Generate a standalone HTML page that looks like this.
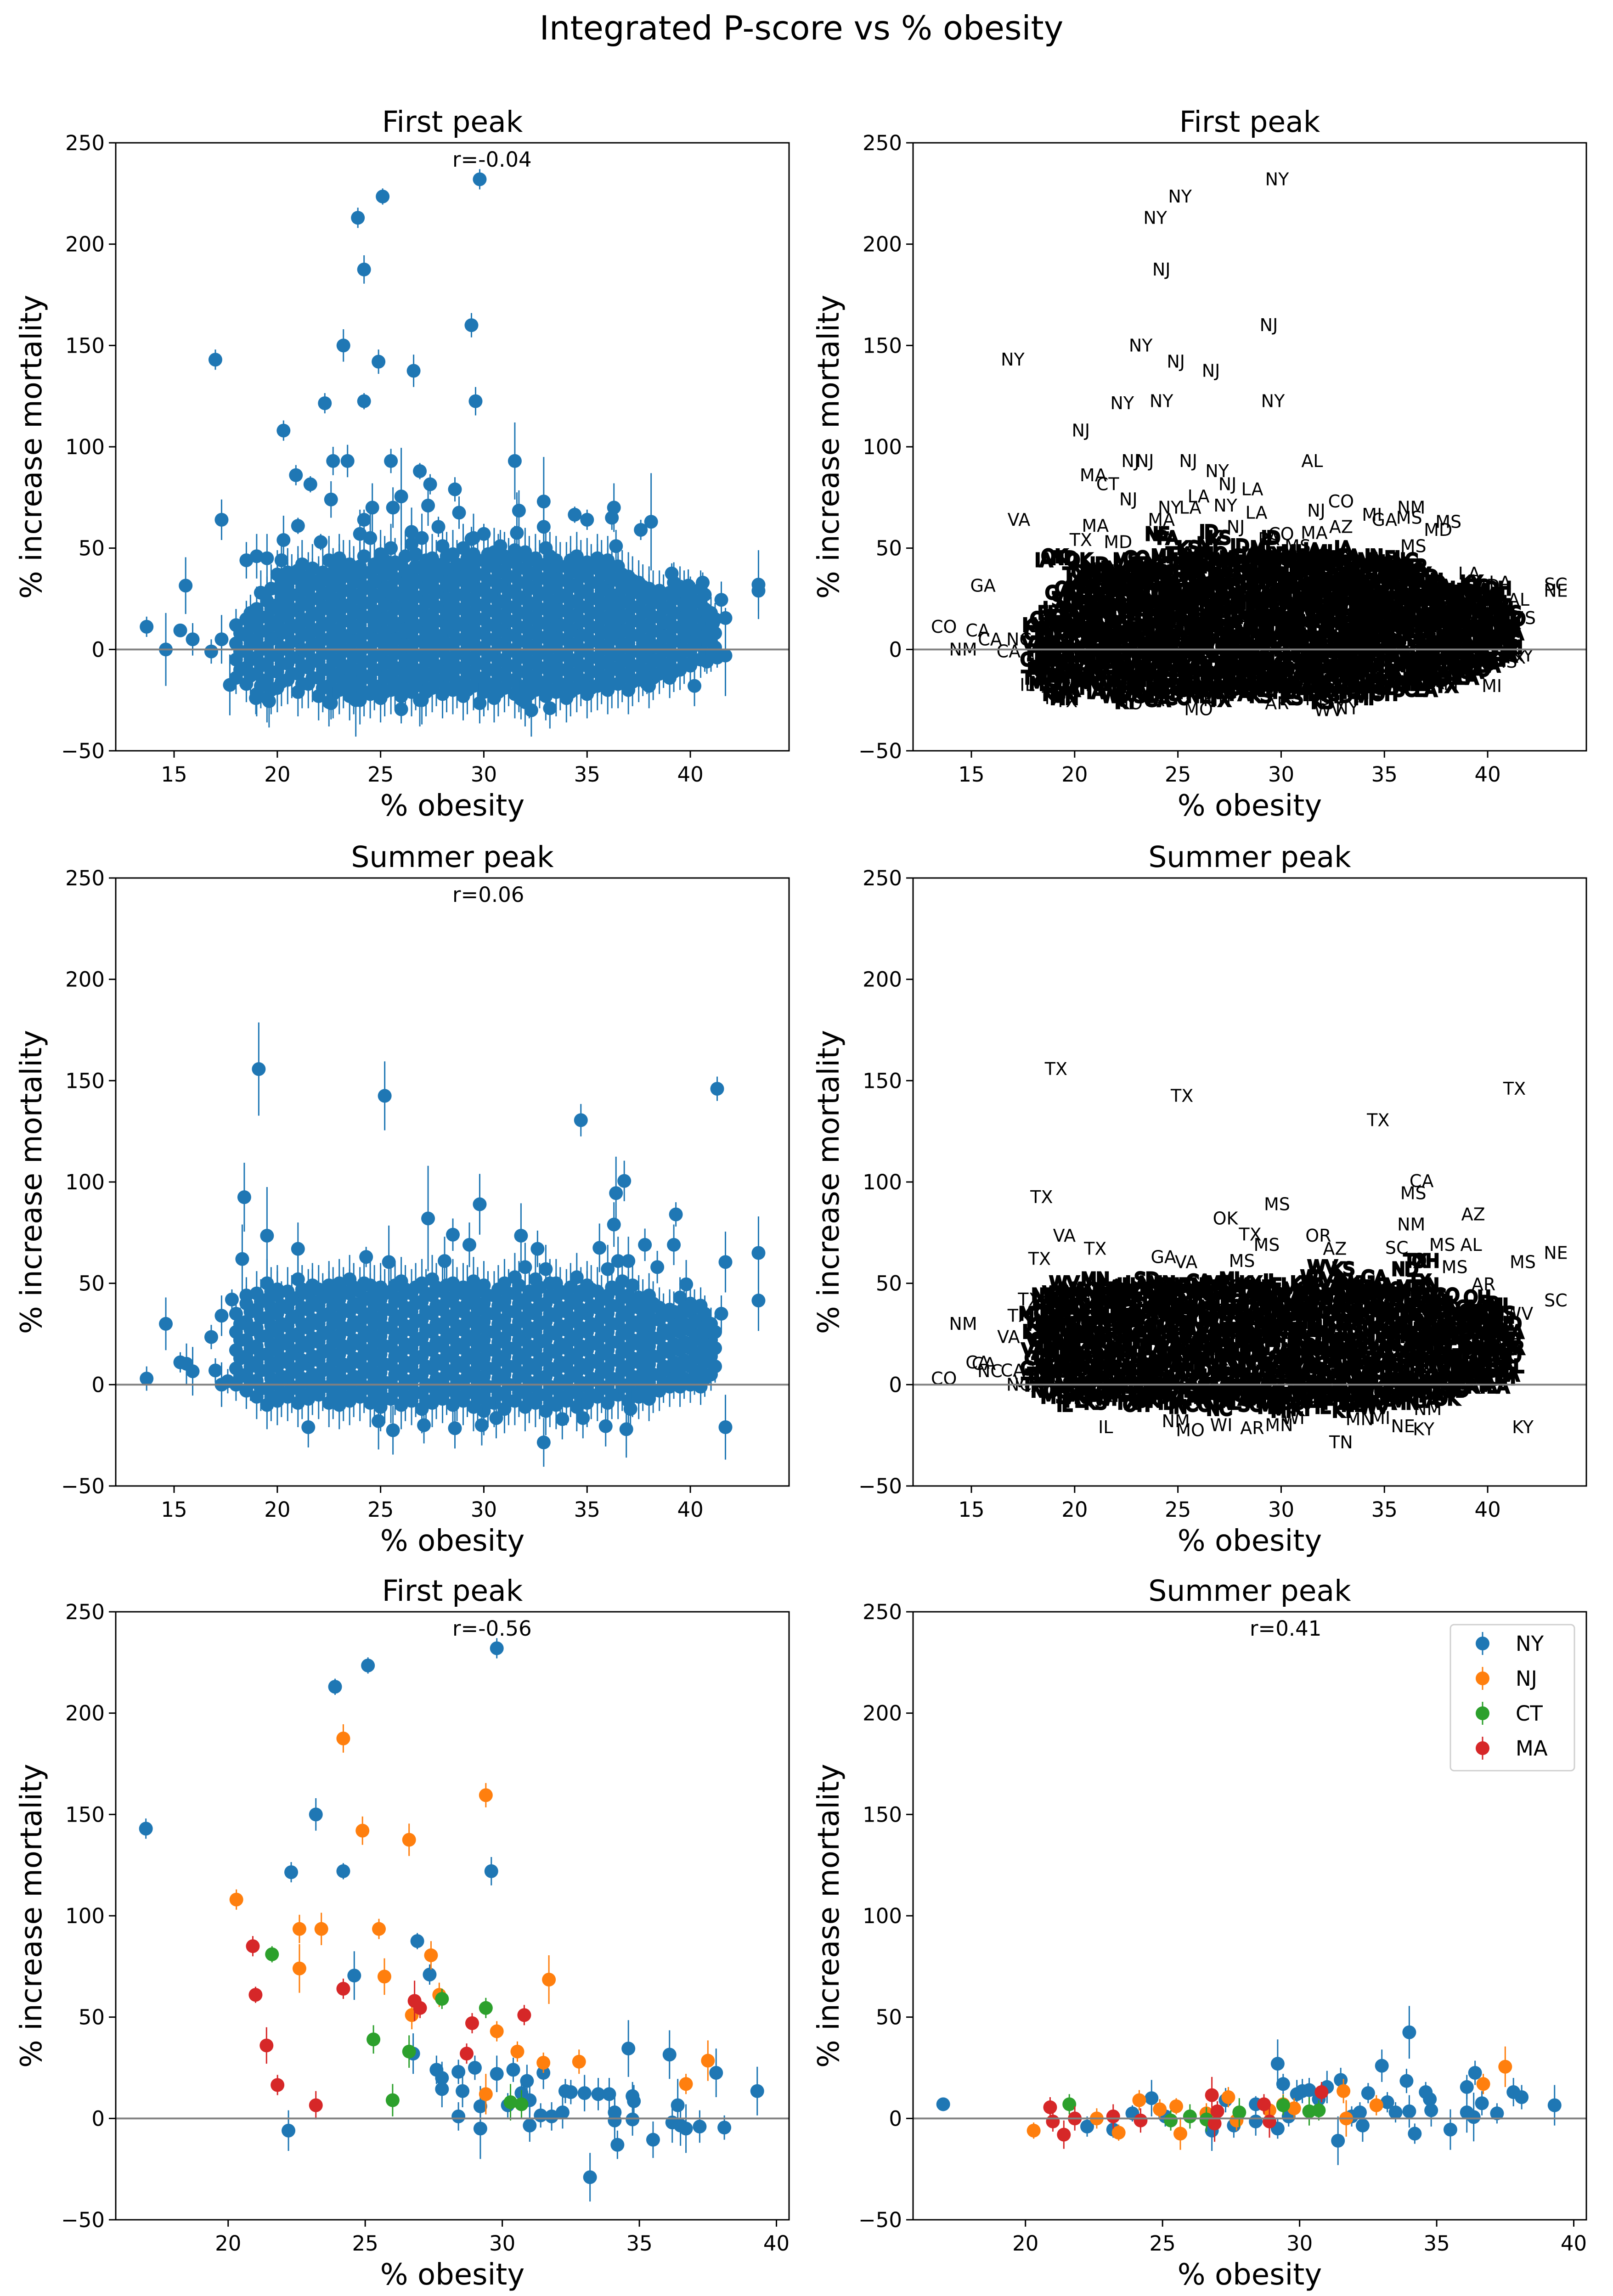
<!DOCTYPE html>
<html><head><meta charset="utf-8"><title>Integrated P-score vs % obesity</title>
<style>html,body{margin:0;padding:0;background:#fff;width:3512px;height:5034px;overflow:hidden}svg{display:block}text{font-family:"DejaVu Sans","Liberation Sans",sans-serif}</style>
</head><body>
<svg id="fig" xmlns="http://www.w3.org/2000/svg" width="3512" height="5034" viewBox="0 0 3512 5034">
<rect x="0" y="0" width="3512" height="5034" fill="#fff"/>
<text x="1745" y="86" font-size="72" text-anchor="middle">Integrated P-score vs % obesity</text>
</svg>
<script>
// ---------- DATA ----------
const cloudX = [18,18.5,19,19.5,20,20.5,21,21.5,22,22.5,23,23.5,24,24.5,25,25.5,26,26.5,27,27.5,28,28.5,29,29.5,30,30.5,31,31.5,32,32.5,33,33.5,34,34.5,35,35.5,36,36.5,37,37.5,38,38.5,39,39.5,40,40.5,41];
const cloudX2 = [18.2,18.7,19.2,19.7,20.2,20.7,21.2,21.7,22.2,22.7,23.2,23.7,24.2,24.7,25.2,25.7,26.2,26.7,27.2,27.7,28.2,28.7,29.2,29.7,30.2,30.7,31.2,31.7,32.2,32.7,33.2,33.7,34.2,34.7,35.2,35.7,36.2,36.7,37.2,37.7,38.2,38.7,39.2,39.7,40.2,40.7,41.2];
const firstCloudY = [
[-14,-5,3,12],[-17,-9,-1,7,15,44],[-22,-12,-4,5,13,20,46],[-24,-15,-7,1,9,16,24,45],[-19,-11,-3,6,14,22,30,37],
[-15,-7,0,8,16,23,31,38],[-21,-12,-4,4,11,19,27,35,39],[-17,-9,-1,7,14,22,29,36],[-23,-14,-6,2,9,17,25,32,34],
[-26,-18,-10,-2,5,12,20,27,34,44],[-20,-12,-5,3,10,18,25,33,40,45],[-23,-15,-8,0,7,14,22,29,36,42],
[-25,-17,-10,-2,5,12,19,27,34,41,57],[-22,-14,-6,1,8,16,23,31,38,55],[-24,-18,-10,-3,4,11,18,26,33,40,47],
[-20,-13,-6,2,9,16,24,31,39,50],[-23,-16,-9,-1,6,13,21,28,35,42],[-21,-14,-7,1,8,15,22,30,37,52,58],
[-25,-17,-10,-3,4,11,19,26,33,40,55],[-19,-12,-5,3,10,17,24,32,39,45],[-22,-15,-8,0,7,14,21,29,36,42,51],
[-20,-13,-6,2,9,16,23,31,38,47],[-23,-16,-9,-2,5,12,20,27,34,41,50],[-18,-11,-4,4,11,18,25,33,40,47,55],
[-21,-14,-7,1,8,15,22,30,37,44],[-24,-17,-10,-2,5,12,19,27,34,41,48],[-19,-12,-5,3,10,17,24,32,39,46],
[-22,-15,-8,0,7,14,21,29,36,43,49],[-26,-18,-11,-3,4,11,18,26,33,40,48],[-20,-13,-6,2,9,16,23,31,38,45],
[-23,-16,-9,-1,6,13,20,28,35,42,50],[-21,-14,-7,1,8,15,22,30,37,44],[-24,-17,-10,-2,5,12,19,27,34,41],
[-19,-12,-5,3,10,17,24,32,39,46],[-22,-15,-8,0,7,14,21,29,36,43],[-18,-11,-4,4,11,18,25,33,40,45],
[-20,-13,-6,2,9,16,23,31,38,44],[-17,-10,-3,5,12,19,26,34,41],[-20,-12,-5,3,10,17,24,31,36],
[-15,-8,-1,7,14,21,28,33],[-18,-10,-3,5,12,19,26,30],[-12,-5,2,9,16,23,29],[-14,-7,0,7,14,21,28],
[-10,-3,4,11,18,25,31],[-8,-1,6,13,20,27],[-5,2,9,16,23,30],[-3,4,11,18]];
const firstCloudY2 = [
[-10,-1,8],[-13,-5,3,11,18],[-18,-8,0,9,16,28],[-20,-11,-3,5,12,20,30],[-16,-7,1,10,18,26,34,44],
[-12,-4,4,12,20,27,35],[-17,-8,0,8,15,23,31,42],[-14,-5,3,10,18,25,33,40],[-19,-10,-2,5,13,21,28,38],
[-22,-14,-6,1,8,16,24,31,38],[-17,-9,-1,6,14,21,29,36,42],[-20,-12,-4,4,11,18,25,33,39],
[-21,-13,-6,1,8,16,23,30,38,46],[-18,-10,-3,5,12,19,27,34,42],[-21,-14,-7,0,7,15,22,29,37,44],
[-17,-10,-2,5,12,20,27,35,43],[-20,-12,-5,2,10,17,25,32,39,46],[-18,-11,-3,4,12,19,26,34,41,47],
[-21,-13,-6,1,8,15,23,30,37,44],[-16,-9,-1,6,14,21,28,36,42],[-19,-11,-4,3,11,18,25,33,40,46],
[-17,-9,-2,5,13,20,27,35,42],[-20,-12,-5,2,9,16,24,31,38,45],[-15,-7,0,8,15,22,29,37,44],
[-18,-10,-3,5,12,19,26,34,41,47],[-21,-13,-6,2,9,16,23,31,38,45],[-16,-8,-1,7,14,21,28,36,43],
[-19,-11,-4,4,11,18,25,33,40,46],[-22,-14,-7,0,8,15,22,30,37,44],[-17,-9,-2,6,13,20,27,35,42],
[-20,-12,-5,3,10,17,24,32,39,46],[-18,-10,-3,5,12,19,26,34,41],[-21,-13,-6,2,9,16,23,31,38,44],
[-16,-8,-1,7,14,21,28,36,42],[-19,-11,-4,4,11,18,25,33,40],[-15,-7,0,8,15,22,29,37,42],
[-17,-9,-2,6,13,20,27,35,41],[-14,-6,1,9,16,23,30,37],[-16,-8,-1,7,14,21,28,34],
[-12,-4,3,11,18,25,31],[-14,-6,1,9,16,23,28],[-9,-1,6,13,20,27],[-11,-3,4,11,18,25,33],
[-7,0,8,15,22,29],[-5,3,10,17,24],[-2,6,13,20,27],[1,8,15]];
const summerCloudY = [
[0,8,17,26,35],[-3,5,14,22,31,40,44],[-6,2,11,19,28,37,45],[-10,-2,7,15,24,33,42,50],[-8,0,9,17,26,35,44,47],
[-6,2,11,20,29,38,46],[-9,-1,8,17,25,34,43,52],[-7,1,10,19,28,37,45],[-5,3,12,21,30,39,47],
[-9,-1,8,17,26,35,44,49],[-10,-2,6,15,24,33,42,50],[-8,0,9,18,27,36,45,52],[-6,2,11,20,29,38,46],
[-9,-1,8,17,26,35,43,49],[-11,-3,6,15,24,33,42,48],[-7,1,10,19,28,37,46],[-10,-2,7,16,25,34,43,51],
[-8,0,9,18,27,36,45],[-12,-4,5,14,23,32,41,50],[-9,-1,8,17,26,35,44,52],[-7,1,10,19,28,37,46],
[-10,-2,7,16,25,34,43,50],[-8,0,9,18,27,36,45,48],[-11,-3,6,15,24,33,42,51],[-13,-5,4,13,22,31,40,49],
[-9,-1,8,17,26,35,44],[-12,-4,5,14,23,32,41,50],[-8,0,9,18,27,36,45,53],[-11,-3,6,15,24,33,42,58],
[-9,-1,8,17,26,35,44,52],[-13,-5,4,13,22,31,40,57],[-10,-2,7,16,25,34,43,50],[-8,0,9,18,27,36,45],
[-11,-3,6,15,24,33,42,53],[-9,-1,8,17,26,35,44,49],[-6,2,11,20,29,38,46],[-9,-1,8,17,26,35,44,57],
[-5,3,12,21,30,39,47,61],[-8,0,9,18,27,36,44,61],[-6,2,11,20,29,38,43],[-7,1,10,19,28,37,44],
[-3,5,14,23,32,38],[-1,7,16,25,34,37],[-1,8,17,26,33,43],[0,9,18,27,36,40],[-1,7,16,25,32,39],[5,14,22,30]];
const summerCloudY2 = [
[4,13,22,30],[1,9,18,27,36],[-2,7,15,24,33,41],[-6,3,11,20,29,38,46],[-4,4,13,22,30,39],
[-2,6,15,24,33,42],[-5,3,12,21,30,38,47],[-3,5,14,23,32,41,48],[-1,7,16,25,34,43],
[-5,3,12,21,30,39,46],[-6,2,10,19,28,37,46],[-4,4,13,22,31,40,48],[-2,6,15,24,33,42,50],
[-5,3,12,21,30,39,47],[-7,1,10,19,28,37,45],[-3,5,14,23,32,41,49],[-6,2,11,20,29,38,47],
[-4,4,13,22,31,40,48],[-8,0,9,18,27,36,45],[-5,3,12,21,30,39,48],[-3,5,14,23,32,41,49],
[-6,2,11,20,29,38,46],[-4,4,13,22,31,40,47],[-7,1,10,19,28,37,46],[-9,-1,8,17,26,35,44],
[-5,3,12,21,30,39,47],[-8,0,9,18,27,36,45],[-4,4,13,22,31,40,49],[-7,1,10,19,28,37,46],
[-5,3,12,21,30,39,48],[-9,-1,8,17,26,35,44,50],[-6,2,11,20,29,38,46],[-4,4,13,22,31,40,48],
[-7,1,10,19,28,37,46],[-5,3,12,21,30,39,47],[-2,6,15,24,33,42],[-5,3,12,21,30,39,48],
[-1,7,16,25,34,43,51],[-4,4,13,22,31,40,49],[-2,6,15,24,33,41],[-3,5,14,23,32,40],
[1,9,18,27,35],[3,11,20,29,36],[3,12,21,30,38],[4,13,22,31,38],[3,11,20,28,35],[9,18,26]];
const cloudErr = [8,9,11,12,12,12,12,12,12,12,12,12,12,12,12,12,12,12,12,12,12,12,12,12,12,12,12,12,12,12,12,12,12,12,12,12,12,12,12,11,11,10,10,10,9,9,8];
const cloudStates = ["TX","GA","VA","KY","MO","NC","TN","IN","OH","IA","KS","NE","MS","AL","AR","LA","OK","MN","WI","IL","MI","PA","CO","SD","ND","MT","WV","FL","SC","CA","NY","ID"];

const firstOutX = [13.67,14.6,15.3,15.56,15.9,16.8,17.0,17.3,17.3,20.3,20.9,21.6,20.3,21.0,22.3,22.6,22.7,22.1,23.2,23.4,23.9,24.2,24.2,24.2,24.9,25.1,25.5,24.6,25.6,26.0,26.6,26.9,27.4,27.3,27.8,28.6,28.8,29.4,29.6,29.8,29.4,30.0,31.5,31.7,30.8,31.6,32.9,32.9,34.4,35.0,36.3,36.2,36.4,37.6,38.1,39.1,39.9,40.6,41.5,41.7,43.3,43.3,41.1,41.7,41.3,40.2,40.8,26.0,32.3,33.2,29.8,22.6,19.6,18.96,26.9,23.8,31.8,37.9,35.0,17.7,38.7];
const firstOutY = [11.2,0,9.4,31.5,5,-1,143,64,5,108,86,81.5,54,61,121.5,74,93,53,150,93,213,187.5,122.5,64,142,223.5,93,70,70,75.5,137.5,88,81.5,71,60.5,79,67.5,160,122.5,232,54.5,57,93,68.5,51,57.5,60.5,73,66.5,64,70,65,51,59,63,37.5,31.5,33,24.5,15.5,32,29,13,-3,-4,-18,-6,-29.5,-30,-29,-26.5,-26.5,-25.5,-24,-25,-25,-24.5,-17,-19,-17.5,-10];
const firstOutErr = [5,18,3,14,8,6,5,10,12,5,5,4,12,4,5,9,7,4,8,8,5,7,4,5,6,4,6,12,10,24,8,4,5,10,5,6,8,6,7,5,6,5,19,10,8,20,10,22,4,5,12,6,8,5,24,5,8,5,9,5,17,10,4,20,5,10,6,7,13,10,10,8,13,8,13,18,10,5,6,15,6];
const firstOutState = ["CO","NM","CA","GA","CA","CA","NY","VA","NC","NJ","MA","CT","TX","MA","NY","NJ","NJ","MD","NY","NJ","NY","NJ","NY","MA","NJ","NY","NJ","NY","LA","LA","NJ","NY","NJ","NY","NJ","LA","LA","NJ","NY","NY","PA","CO","AL","NJ","MS","MA","AZ","CO","MI","GA","NM","MS","MS","MD","MS","LA","MD","LA","AL","MS","SC","NE","TX","KY","TX","MI","MS","MO","WV","NY","AR","MO","TX","TX","MN","VA","ND","NM","OH","IL","KY"];

const summerOutX = [13.67,14.6,15.3,15.6,15.9,16.8,17.0,17.3,17.3,17.6,17.8,18.3,18.4,19.1,19.5,21.0,21.5,21.7,24.3,25.2,25.4,24.9,25.6,27.3,28.5,28.1,29.3,29.8,28.6,29.9,30.6,27.1,31.8,32.6,32.9,33.8,34.7,34.8,35.6,35.9,36.3,36.4,36.8,36.9,37.8,39.2,39.3,39.8,41.3,41.7,41.7,43.3,43.3,41.5,41.0,40.7,38.4,37.1];
const summerOutY = [3,30,11,10.3,6.6,23.5,7,34,0,1.7,42,62,92.5,155.7,73.5,67,-21,49,63,142.5,60.5,-18,-22.5,82,74,61,69,89,-21.5,-20,-16.5,-20,73.5,67,-28.5,-17,130.5,-16.5,67.5,-20.5,79,94.5,100.5,-22,69,69,84,49.5,146,60.5,-21,65,41.5,35,19.5,26,58,-12];
const summerOutErr = [6,13,5,10,12,6,6,10,11,6,5,17,17,23,24,13,10,8,5,17,18,14,12,26,8,12,11,15,10,10,10,9,16,9,12,10,8,10,12,10,11,18,10,14,8,10,6,12,6,15,16,18,15,9,10,8,8,10];
const summerOutState = ["CO","NM","CA","CA","NC","VA","CA","TX","NC","VA","TX","TX","TX","TX","VA","TX","IL","GA","GA","TX","VA","NM","MO","OK","TX","MS","MS","MS","AR","MN","WI","WI","OR","AZ","TN","MN","TX","MI","SC","NE","NM","MS","CA","KY","MS","AL","AZ","AR","TX","MS","KY","NE","SC","WV","MS","KY","MS","NM"];

const firstNEX = [17.0,22.3,22.2,23.2,23.9,24.2,24.6,25.1,26.9,27.35,26.75,27.6,27.8,27.8,28.4,28.55,28.4,29.0,29.2,29.2,29.8,29.6,29.8,30.2,30.4,30.7,30.9,31.0,31.0,31.5,31.4,31.8,32.2,32.3,32.5,33.0,33.2,33.5,33.9,34.1,34.1,34.2,34.6,34.75,34.8,34.75,35.5,36.1,36.2,36.4,36.5,36.7,37.2,37.8,38.1,39.3,
 20.3,22.6,22.6,23.4,24.2,24.9,25.5,25.7,26.6,26.7,27.4,27.7,29.4,29.4,29.8,30.55,31.5,31.7,32.8,36.7,37.5,
 21.6,25.3,26.0,26.6,27.8,29.4,30.3,30.7,
 20.9,21.0,21.4,21.8,23.2,24.2,26.8,27.0,28.7,28.9,30.8];
const firstNEY = [143,121.5,-6,150,213,122,70.5,223.5,87.5,71,32,24,20,14.5,23,13.5,1,25,6,-5,232,122,22,6.5,24,12.5,18.5,9,-3.5,22.5,1.5,1,3,13.5,13,12.5,-29,12,12,3,-1,-13,34.5,11,8.5,-0.5,-10.5,31.5,-2,6.5,-3.5,-5,-4,22.5,-4.5,13.5,
 108,93.5,74,93.5,187.5,142,93.5,70,137.5,51,80.5,61,159.5,12,43,33,27.5,68.5,28,17,28.5,
 81,39,9,33,59,54.5,8,7,
 85,61,36,16.5,6.5,64,58,54.5,32,47,51];
const firstNEErr = [5,5,10,8,4,4,12,4,4,5,10,7,8,9,6,8,7,6,10,15,5,7,9,6,6,6,8,10,8,8,6,7,8,6,6,9,12,8,8,9,10,7,14,7,8,8,9,12,10,13,10,12,8,12,6,12,
 5,7,12,8,7,7,5,9,8,7,7,6,6,10,5,5,5,12,6,5,10,
 4,7,8,8,5,5,9,7,
 5,4,9,5,7,5,10,5,5,5,5];
const firstNEState = ["NY","NY","NY","NY","NY","NY","NY","NY","NY","NY","NY","NY","NY","NY","NY","NY","NY","NY","NY","NY","NY","NY","NY","NY","NY","NY","NY","NY","NY","NY","NY","NY","NY","NY","NY","NY","NY","NY","NY","NY","NY","NY","NY","NY","NY","NY","NY","NY","NY","NY","NY","NY","NY","NY","NY","NY",
 "NJ","NJ","NJ","NJ","NJ","NJ","NJ","NJ","NJ","NJ","NJ","NJ","NJ","NJ","NJ","NJ","NJ","NJ","NJ","NJ","NJ",
 "CT","CT","CT","CT","CT","CT","CT","CT",
 "MA","MA","MA","MA","MA","MA","MA","MA","MA","MA","MA"];

const summerNEX = [17.0,22.25,23.2,23.9,24.6,25.1,26.8,27.3,27.6,28.4,28.4,29.2,29.4,29.2,29.6,29.9,30.1,30.35,30.7,31.0,31.5,31.4,31.9,32.2,32.3,32.5,33.0,33.2,33.5,34.0,33.9,34.0,34.2,34.6,34.75,34.8,35.5,36.1,36.1,36.4,36.35,36.65,37.2,37.8,38.1,39.3,
 20.3,22.6,23.4,24.15,24.9,25.5,25.65,26.6,27.4,27.7,28.9,29.4,29.8,31.6,31.7,32.8,36.7,37.5,
 21.6,25.3,26.0,26.6,27.8,29.4,30.35,30.7,
 20.9,21.0,21.4,21.8,23.2,24.2,26.8,26.9,27.0,28.7,28.9,30.8];
const summerNEY = [7,-4,-5.5,2.5,10,1,-6,9,-3.5,7,-1.5,27,17,-5,1,12,13.5,14,9.5,15.5,19,-11,1,3,-3.5,12.5,26,8,3,42.5,18.5,3.5,-7.5,13,9.5,4,-5.5,15.5,3,22.5,0.7,7.5,2.5,13,10.5,6.5,
 -6,0,-7,9,4.5,6,-7.5,2.5,10.5,-1,4,7,5,13.5,0,6.5,17,25.5,
 7,-1,1,-0.5,3,6.5,3.5,4,
 5.5,-1.5,-8,0,1,-1,11.5,-2.5,3.5,7,-1.5,13];
const summerNEErr = [3,5,4,4,9,5,10,6,6,4,7,12,5,5,5,7,6,6,5,8,6,12,5,5,8,5,8,5,5,13,6,8,5,5,6,8,10,6,10,6,12,6,5,7,6,10,
 4,5,4,5,5,4,8,5,5,5,4,5,5,6,9,5,5,10,
 5,5,6,6,7,5,7,5,
 5,5,7,6,6,6,9,9,5,5,8,5];
const summerNEState = ["NY","NY","NY","NY","NY","NY","NY","NY","NY","NY","NY","NY","NY","NY","NY","NY","NY","NY","NY","NY","NY","NY","NY","NY","NY","NY","NY","NY","NY","NY","NY","NY","NY","NY","NY","NY","NY","NY","NY","NY","NY","NY","NY","NY","NY","NY",
 "NJ","NJ","NJ","NJ","NJ","NJ","NJ","NJ","NJ","NJ","NJ","NJ","NJ","NJ","NJ","NJ","NJ","NJ",
 "CT","CT","CT","CT","CT","CT","CT","CT",
 "MA","MA","MA","MA","MA","MA","MA","MA","MA","MA","MA","MA"];

const yTicks = [-50,0,50,100,150,200,250];
const xTicksTop = [15,20,25,30,35,40];
const xTicksBottom = [20,25,30,35,40];
const legendStates = ["NY","NJ","CT","MA"];
const stateColors = {NY:"#1f77b4",NJ:"#ff7f0e",CT:"#2ca02c",MA:"#d62728"};

// ---------- DRAWING ----------
const NS = "http://www.w3.org/2000/svg";
const svg = document.getElementById("fig");
const AW = 1466, AH = 1324;
function mk(tag, attrs, parent){
  const e = document.createElementNS(NS, tag);
  for (const k in attrs) e.setAttribute(k, attrs[k]);
  (parent||svg).appendChild(e);
  return e;
}
function makeAxes(name, left, top, xmin, xmax, xticks, title, rtext){
  const g = mk("g", {});
  
  
  const ax = {
    g, left, top,
    sx: v => left + (v - xmin) / (xmax - xmin) * AW,
    sy: v => top + (250 - v) / 300 * AH
  };
  const t = mk("text", {x: left + AW/2, y: top - 24, "font-size": 63, "text-anchor": "middle"}, g);
  t.textContent = title;
  
  
  yTicks.forEach(v => {
    const y = ax.sy(v);
    const l = mk("line", {x1: left - 15, x2: left, y1: y, y2: y, stroke: "#000", "stroke-width": 3}, g);
    
    
    const tx = mk("text", {x: left - 24, y: y + 16, "font-size": 45, "text-anchor": "end"}, g);
    tx.textContent = v < 0 ? "\u2212" + Math.abs(v) : String(v);
    
    
  });
  xticks.forEach(v => {
    const x = ax.sx(v);
    const l = mk("line", {x1: x, x2: x, y1: top + AH, y2: top + AH + 15, stroke: "#000", "stroke-width": 3}, g);
    
    
    const tx = mk("text", {x: x, y: top + AH + 67, "font-size": 45, "text-anchor": "middle"}, g);
    tx.textContent = String(v);
    
    
  });
  const xl = mk("text", {x: left + AW/2, y: top + AH + 141, "font-size": 64, "text-anchor": "middle"}, g);
  xl.textContent = "% obesity";
  
  
  const yx = left - 183, yy = top + AH/2;
  const yl = mk("text", {x: yx, y: yy, "font-size": 64, "text-anchor": "middle", "dominant-baseline": "central", transform: "rotate(-90 " + yx + " " + yy + ")"}, g);
  yl.textContent = "% increase mortality";
  
  
  const cid = "clip-" + name;
  const cp = mk("clipPath", {id: cid}, g);
  mk("rect", {x: left, y: top, width: AW, height: AH}, cp);
  ax.plot = mk("g", {"clip-path": "url(#" + cid + ")"}, g);
  
  
  ax.finish = function(){
    const z = mk("line", {x1: left, x2: left + AW, y1: ax.sy(0), y2: ax.sy(0), stroke: "#808080", "stroke-width": 4}, ax.plot);
    
    
    const fr = mk("rect", {x: left, y: top, width: AW, height: AH, fill: "none", stroke: "#000", "stroke-width": 3}, g);
    
    
    if (rtext) {
      const r = mk("text", {x: left + AW*0.5, y: top + 52, "font-size": 45}, g);
      r.textContent = rtext;
      
      
    }
  };
  return ax;
}
function point(ax, x, y, e, color){
  const X = ax.sx(x), Y = ax.sy(y);
  const b = mk("line", {x1: X, x2: X, y1: ax.sy(y - e), y2: ax.sy(y + e), stroke: color, "stroke-width": 3}, ax.plot);
  
  
  const c = mk("circle", {cx: X, cy: Y, r: 15, fill: color}, ax.plot);
  
  
}
function label(ax, x, y, s, heavy){
  const attrs = {x: ax.sx(x), y: ax.sy(y), "font-size": 38, "text-anchor": "middle", "dominant-baseline": "central"};
  if (heavy) { attrs.stroke = "#000"; attrs["stroke-width"] = 5; }
  const t = mk("text", attrs, ax.plot);
  t.textContent = s;
  
  
}
function scatterPanel(ax, cY, cY2, ox, oy, oe){
  cloudX.forEach((x, i) => cY[i].forEach(y => point(ax, x, y, cloudErr[i], "#1f77b4")));
  cloudX2.forEach((x, i) => cY2[i].forEach(y => point(ax, x, y, cloudErr[i], "#1f77b4")));
  ox.forEach((x, i) => point(ax, x, oy[i], oe[i], "#1f77b4"));
  ax.finish();
}
function textPanel(ax, cY, cY2, ox, oy, os){
  let k = 0;
  cloudX.forEach((x, i) => cY[i].forEach(y => { label(ax, x, y, cloudStates[k % cloudStates.length], true); k++; }));
  cloudX2.forEach((x, i) => cY2[i].forEach(y => { label(ax, x, y, cloudStates[(k + 7) % cloudStates.length], true); k++; }));
  ox.forEach((x, i) => label(ax, x, oy[i], os[i], false));
  ax.finish();
}
const XMIN = 12.175, XMAX = 44.78, BXMIN = 15.9, BXMAX = 40.46;
const LX = 252, RX = 1988, T1 = 311, T2 = 1912, T3 = 3510;

const a1 = makeAxes("first-peak-scatter", LX, T1, XMIN, XMAX, xTicksTop, "First peak", "r=-0.04");
scatterPanel(a1, firstCloudY, firstCloudY2, firstOutX, firstOutY, firstOutErr);
const a2 = makeAxes("first-peak-labels", RX, T1, XMIN, XMAX, xTicksTop, "First peak", null);
textPanel(a2, firstCloudY, firstCloudY2, firstOutX, firstOutY, firstOutState);
const a3 = makeAxes("summer-peak-scatter", LX, T2, XMIN, XMAX, xTicksTop, "Summer peak", "r=0.06");
scatterPanel(a3, summerCloudY, summerCloudY2, summerOutX, summerOutY, summerOutErr);
const a4 = makeAxes("summer-peak-labels", RX, T2, XMIN, XMAX, xTicksTop, "Summer peak", null);
textPanel(a4, summerCloudY, summerCloudY2, summerOutX, summerOutY, summerOutState);

const a5 = makeAxes("first-peak-northeast", LX, T3, BXMIN, BXMAX, xTicksBottom, "First peak", "r=-0.56");
legendStates.forEach(s => firstNEX.forEach((x, i) => { if (firstNEState[i] === s) point(a5, x, firstNEY[i], firstNEErr[i], stateColors[s]); }));
a5.finish();
const a6 = makeAxes("summer-peak-northeast", RX, T3, BXMIN, BXMAX, xTicksBottom, "Summer peak", "r=0.41");
legendStates.forEach(s => summerNEX.forEach((x, i) => { if (summerNEState[i] === s) point(a6, x, summerNEY[i], summerNEErr[i], stateColors[s]); }));
a6.finish();

const lg = mk("g", {});


const lbox = mk("rect", {x: 3158, y: 3538, width: 270, height: 318, rx: 8, fill: "#fff", "fill-opacity": 0.8, stroke: "#d0d0d0", "stroke-width": 3}, lg);


legendStates.forEach((s, i) => {
  const y = 3579 + i * 76;
  const eg = mk("g", {}, lg);
  
  
  mk("line", {x1: 3228, x2: 3228, y1: y - 25, y2: y + 25, stroke: stateColors[s], "stroke-width": 3}, eg);
  mk("circle", {cx: 3228, cy: y, r: 15, fill: stateColors[s]}, eg);
  const t = mk("text", {x: 3300, y: y + 16, "font-size": 45}, eg);
  t.textContent = s;
});
</script>
</body></html>
